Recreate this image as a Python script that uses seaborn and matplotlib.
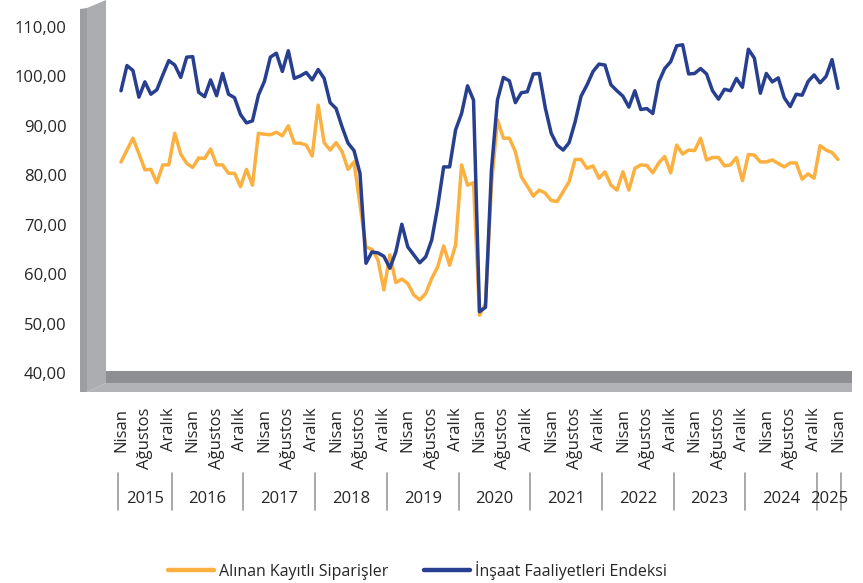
import pandas as pd
import matplotlib
matplotlib.use("Agg")
import matplotlib.pyplot as plt
import matplotlib.transforms as mtransforms
from matplotlib.patches import Polygon
import seaborn as sns

# monthly index values, Nisan 2015 - Nisan 2025
siparis = [82.7, 85.1, 87.5, 84.4, 81.1, 81.2, 78.5, 82.1, 82.1, 88.5, 84.3, 82.4,
           81.6, 83.5, 83.4, 85.3, 82.1, 82.1, 80.4, 80.4, 77.7, 81.2, 78.0, 88.5,
           88.3, 88.2, 88.7, 88.0, 90.0, 86.5, 86.5, 86.1, 83.9, 94.2, 86.6, 85.1,
           86.6, 84.8, 81.2, 82.7, 74.0, 65.5, 65.0, 62.9, 56.8, 63.9, 58.3, 59.0,
           58.1, 55.8, 54.8, 56.1, 59.1, 61.5, 65.7, 61.8, 65.9, 82.1, 78.0, 78.5,
           51.7, 54.0, 78.0, 91.2, 87.5, 87.5, 84.8, 79.7, 77.8, 75.8, 77.0, 76.4,
           74.9, 74.7, 76.7, 78.7, 83.2, 83.2, 81.4, 81.9, 79.4, 80.7, 78.0, 77.0,
           80.7, 77.0, 81.4, 82.1, 82.0, 80.5, 82.5, 83.8, 80.5, 86.1, 84.3, 85.1,
           85.0, 87.5, 83.1, 83.6, 83.6, 81.9, 82.1, 83.6, 78.9, 84.2, 84.1, 82.7,
           82.7, 83.1, 82.4, 81.7, 82.5, 82.5, 79.2, 80.3, 79.4, 86.0, 85.1, 84.6,
           83.2]
insaat = [97.1, 102.2, 101.2, 95.8, 98.9, 96.4, 97.3, 100.3, 103.2, 102.3, 99.8, 103.9,
          104.0, 96.8, 95.9, 99.3, 96.1, 100.6, 96.4, 95.7, 92.3, 90.6, 91.0, 96.2,
          99.0, 103.9, 104.7, 101.0, 105.2, 99.6, 100.1, 100.8, 99.3, 101.4, 99.6, 94.7,
          93.5, 89.8, 86.5, 85.0, 80.4, 62.2, 64.5, 64.3, 63.6, 61.2, 64.5, 70.1,
          65.5, 63.9, 62.3, 63.5, 66.9, 73.6, 81.7, 81.7, 89.2, 92.5, 98.1, 95.2,
          52.4, 53.3, 81.1, 95.2, 99.8, 99.1, 94.7, 96.7, 96.9, 100.5, 100.6, 93.7,
          88.5, 86.1, 85.1, 86.6, 90.8, 96.0, 98.3, 101.0, 102.5, 102.3, 98.3, 97.1,
          96.0, 93.8, 97.1, 93.3, 93.5, 92.5, 98.9, 101.6, 103.0, 106.2, 106.4, 100.5,
          100.6, 101.6, 100.5, 97.1, 95.4, 97.4, 97.1, 99.6, 97.8, 105.5, 103.7, 96.6,
          100.6, 98.9, 99.7, 95.7, 93.9, 96.4, 96.2, 99.0, 100.3, 98.7, 100.0, 103.4,
          97.6]
start_year, start_month = 2015, 4
month_names = {4: "Nisan", 8: "Ağustos", 12: "Aralık"}
series_names = ["Alınan Kayıtlı Siparişler", "İnşaat Faaliyetleri Endeksi"]
palette = {series_names[0]: "#FBB040", series_names[1]: "#283F8F"}
yticks = [40, 50, 60, 70, 80, 90, 100, 110]

# build a month table
n = len(siparis)
months = [(start_month - 1 + i) % 12 + 1 for i in range(n)]
years = [start_year + (start_month - 1 + i) // 12 for i in range(n)]
df = pd.DataFrame({"t": range(n), "year": years, "month": months,
                   series_names[0]: siparis, series_names[1]: insaat})
long_df = df.melt(id_vars=["t", "year", "month"], value_vars=series_names,
                  var_name="seri", value_name="deger")

sns.set_style("white")
plt.rcParams["font.family"] = ["Open Sans", "DejaVu Sans"]

W, H = 863, 583
fig = plt.figure(figsize=(W / 100, H / 100), dpi=100)
ax = fig.add_axes([118 / W, 1 - 373 / H, 723 / W, 346 / H])
ax.patch.set_alpha(0)


def px(pts):
    # pixel coords (from top-left) -> figure fraction
    return [(x / W, 1 - y / H) for x, y in pts]


# grey 3d wall and floor
deco = [
    ([(80, 9), (87, 8), (87, 392), (80, 392)], "#9C9EA1"),
    ([(87, 8), (106, 0), (106, 383), (87, 392)], "#ABADB0"),
    ([(106, 371), (852, 371), (852, 383), (106, 383)], "#8E8F92"),
    ([(87, 392), (106, 383), (852, 383), (852, 392)], "#B1B3B6"),
]
for pts, col in deco:
    fig.add_artist(Polygon(px(pts), closed=True, facecolor=col, edgecolor="none",
                           transform=fig.transFigure, zorder=-1))

sns.lineplot(data=long_df, x="t", y="deger", hue="seri", palette=palette,
             hue_order=series_names, linewidth=2.5, ax=ax, legend=False)

ax.set_xlim(-0.5, n - 0.5)
ax.set_ylim(40, 110)
ax.set_yticks(yticks)
ax.set_yticklabels([f"{v:.2f}".replace(".", ",") for v in yticks], fontsize=12)
lab = df[df["month"].isin(month_names.keys())]
ax.set_xticks(lab["t"])
ax.set_xticklabels([month_names[m] for m in lab["month"]], rotation=90,
                   fontsize=12, va="top")
ax.tick_params(axis="x", length=0, pad=25)
ax.tick_params(axis="y", length=0, pad=37)
ax.set_xlabel("")
ax.set_ylabel("")
for s in ax.spines.values():
    s.set_visible(False)

# year groups under the month labels
trans = mtransforms.blended_transform_factory(ax.transData, ax.transAxes)
bounds = [-0.5] + [t - 0.5 for t in df.loc[(df["month"] == 1), "t"]] + [n - 0.5]
for b in bounds:
    ax.plot([b, b], [-0.289, -0.396], transform=trans, clip_on=False,
            color="#999999", linewidth=1.2)
for y, g in df.groupby("year"):
    mid = (g["t"].min() + g["t"].max()) / 2
    ax.text(mid, -0.364, str(y), transform=trans, ha="center", va="center",
            fontsize=12)

handles = [plt.Line2D([], [], color=palette[s], linewidth=3.2) for s in series_names]
fig.legend(handles, series_names, loc="center left",
           bbox_to_anchor=(168 / W, 1 - 570 / H), ncol=2, frameon=False,
           fontsize=11.5, handlelength=2.9, handletextpad=0.3, columnspacing=2.2,
           borderpad=0, borderaxespad=0)

fig.savefig("out.png", dpi=100, facecolor="white")
